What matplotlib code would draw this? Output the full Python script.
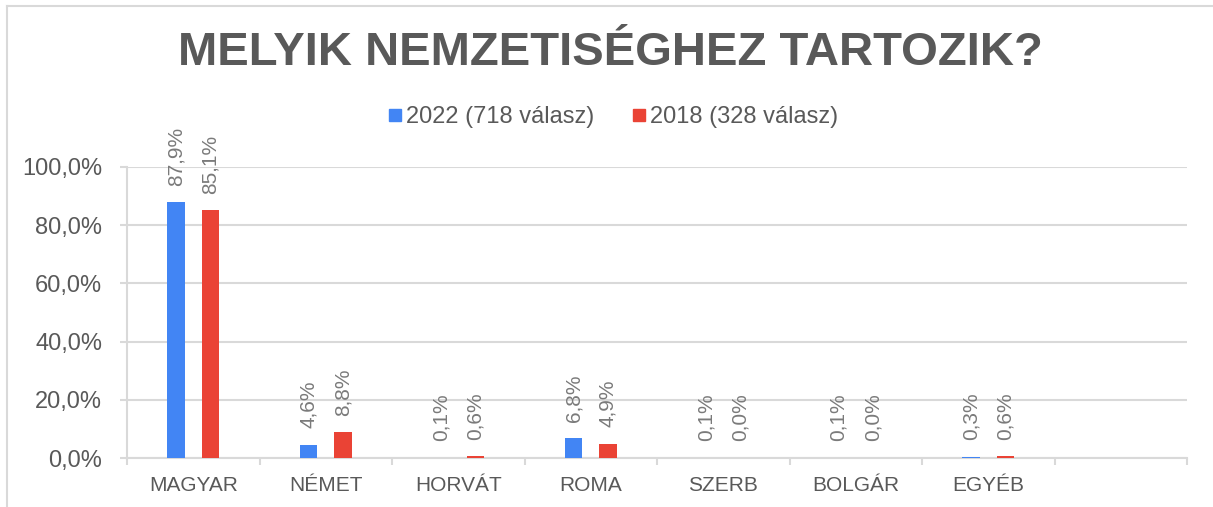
import numpy as np
import matplotlib
matplotlib.use("Agg")
import matplotlib.pyplot as plt
from matplotlib.ticker import FuncFormatter
from matplotlib.lines import Line2D

plt.rcParams['font.family'] = ['Liberation Sans', 'DejaVu Sans']

# adatok
categories = ["MAGYAR", "NÉMET", "HORVÁT", "ROMA", "SZERB", "BOLGÁR", "EGYÉB", ""]
v2022 = [87.9, 4.6, 0.1, 6.8, 0.1, 0.1, 0.3, None]
v2018 = [85.1, 8.8, 0.6, 4.9, 0.0, 0.0, 0.6, None]
series_names = ["2022 (718 válasz)", "2018 (328 válasz)"]
title = "MELYIK NEMZETISÉGHEZ TARTOZIK?"

blue = "#4285F4"
red = "#EA4335"
grid_c = "#D9D9D9"
text_c = "#595959"
label_c = "#7A7A7A"

W, H = 1213, 507
fig = plt.figure(figsize=(W / 100, H / 100), dpi=100)
ax = fig.add_axes([127 / W, 1 - 458 / H, (1187 - 127) / W, (458 - 167) / H])

x = np.arange(len(categories))
off = 0.13
bw = 0.13

def fmt(v):
    return f"{v:.1f}".replace(".", ",") + "%"

for vals, dx, col in [(v2022, -off, blue), (v2018, off, red)]:
    for xi, v in zip(x, vals):
        if v is None:
            continue
        ax.bar(xi + dx, v, width=bw, color=col, zorder=3)
        ax.annotate(fmt(v), (xi + dx, v), xytext=(0, 12), textcoords="offset points",
                    rotation=90, ha="center", va="bottom", fontsize=15, color=label_c)

ax.set_xlim(-0.5, len(categories) - 0.5)
ax.set_ylim(0, 100)
ax.set_yticks(np.arange(0, 101, 20))
ax.yaxis.set_major_formatter(FuncFormatter(lambda v, p: fmt(v)))
ax.set_xticks(x)
ax.set_xticklabels(categories)
ax.set_xticks(np.arange(-0.5, len(categories), 1), minor=True)

ax.grid(axis="y", color=grid_c, linewidth=1.5, zorder=0)
for s in ["top", "right"]:
    ax.spines[s].set_visible(False)
for s in ["left", "bottom"]:
    ax.spines[s].set_color(grid_c)
    ax.spines[s].set_linewidth(1.5)

ax.tick_params(axis="y", length=5, width=1.5, color=grid_c, pad=13,
               labelsize=17, labelcolor=text_c)
ax.tick_params(axis="x", which="major", length=0, pad=13, labelsize=15, labelcolor=text_c)
ax.tick_params(axis="x", which="minor", length=5, width=1.5, color=grid_c)

# cím
fig.text(610 / W, 1 - 53 / H, title, ha="center", va="center",
         fontsize=34, fontweight="bold", color=text_c)

# jelmagyarázat
handles = [Line2D([], [], marker="s", linestyle="", markersize=8, color=c) for c in (blue, red)]
fig.legend(handles, series_names, loc="center", bbox_to_anchor=(612 / W, 1 - 117 / H),
           ncol=2, frameon=False, fontsize=17, labelcolor=text_c,
           handletextpad=0.05, columnspacing=1.5, handlelength=0.8)

# keret
fig.add_artist(Line2D([7 / W, 7 / W], [0, 1 - 6 / H], color=grid_c, lw=1.5))
fig.add_artist(Line2D([7 / W, 1], [1 - 6 / H, 1 - 6 / H], color=grid_c, lw=1.5))

fig.savefig("out.png", dpi=100)
